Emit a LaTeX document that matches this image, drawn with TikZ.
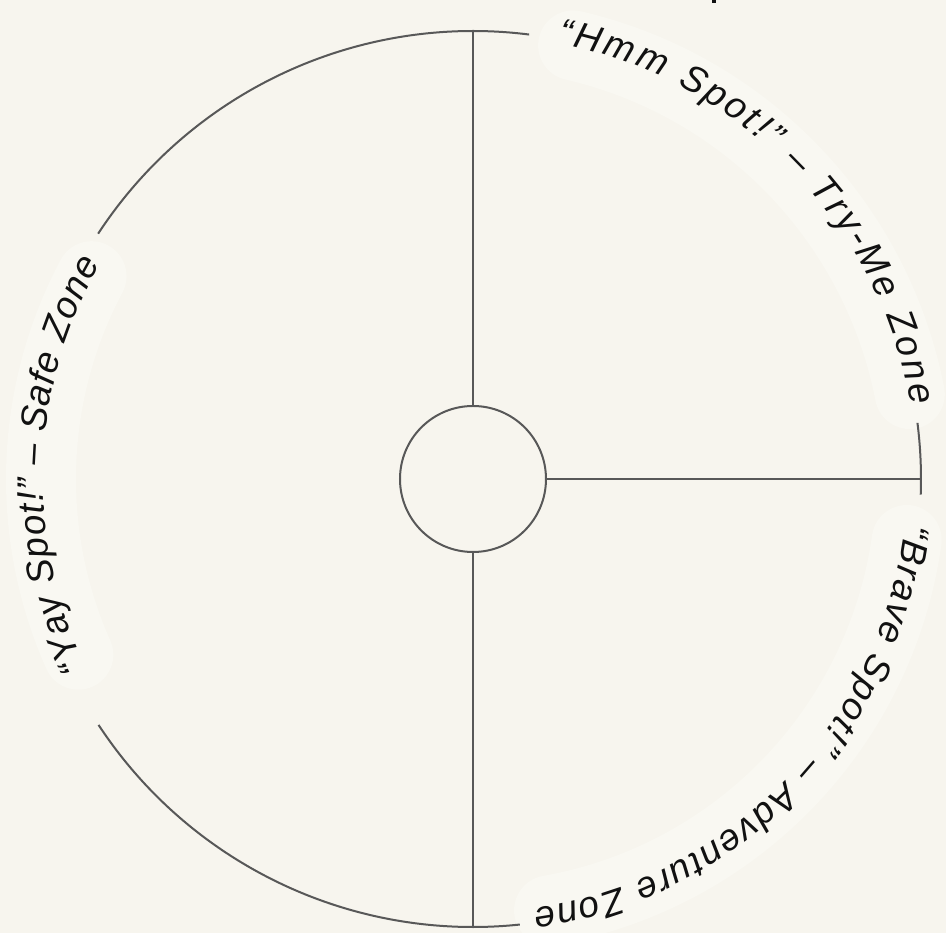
\documentclass[tikz,border=0pt]{standalone}
\usepackage{fontspec}
\setmainfont{Liberation Sans}
\usetikzlibrary{decorations.text}
\definecolor{bgc}{RGB}{247,245,238}
\definecolor{haloc}{RGB}{249,248,242}
\definecolor{linec}{RGB}{88,88,88}
\definecolor{inkc}{RGB}{17,17,17}
\newcommand\zonefont{\itshape\fontsize{37}{40}\selectfont}
\begin{document}
\begin{tikzpicture}[x=1pt,y=1pt,
  rim/.style={draw=linec, line width=2pt},
  halo/.style={draw=haloc, line width=70pt, line cap=round},
  zonetext/.style={decorate, decoration={text along path, text align=fit to path, text color=inkc, text={|\zonefont|#1}}}]
\fill[bgc] (-473,-454) rectangle (473,479);
\useasboundingbox (-473,-454) rectangle (473,479);
% halos behind texts
\draw[halo] (77:445pt) arc[start angle=77, end angle=11, radius=445pt];
\draw[halo] (-8:438pt) arc[start angle=-8, end angle=-80, radius=438pt];
\draw[halo] (204:432pt) arc[start angle=204, end angle=152, radius=432pt];
% rim arcs
\draw[rim] (82.8:448pt) arc[start angle=82.8, end angle=146.8, radius=448pt];
\draw[rim] (213.3:448pt) arc[start angle=213.3, end angle=276, radius=448pt];
\draw[rim] (-2:448pt) arc[start angle=-2, end angle=7.2, radius=448pt];
% hub and spokes
\node[circle, draw=linec, line width=2pt, minimum size=146pt, inner sep=0pt] (hub) at (0,0) {};
\coordinate (ntop) at (90:448pt);
\coordinate (nbot) at (-90:448pt);
\coordinate (nright) at (0:448pt);
\draw[rim] (hub.north) -- (ntop);
\draw[rim] (hub.south) -- (nbot);
\draw[rim] (hub.east) -- (nright);
% texts
\path[zonetext={“Hmm Spot!” – Try-Me Zone}] (79:444pt) arc[start angle=79, end angle=9.5, radius=444pt];
\path[zonetext={“Brave Spot!” – Adventure Zone}] (-6:434pt) arc[start angle=-6, end angle=-82, radius=434pt];
\path[zonetext={“Yay Spot!” – Safe Zone}] (206:430pt) arc[start angle=206, end angle=150, radius=430pt];
% clipped mark at the top edge
\coordinate (marka) at (241,479);
\coordinate (markb) at (241,476);
\draw[inkc, line width=3pt] (marka) -- (markb);
\end{tikzpicture}
\end{document}
